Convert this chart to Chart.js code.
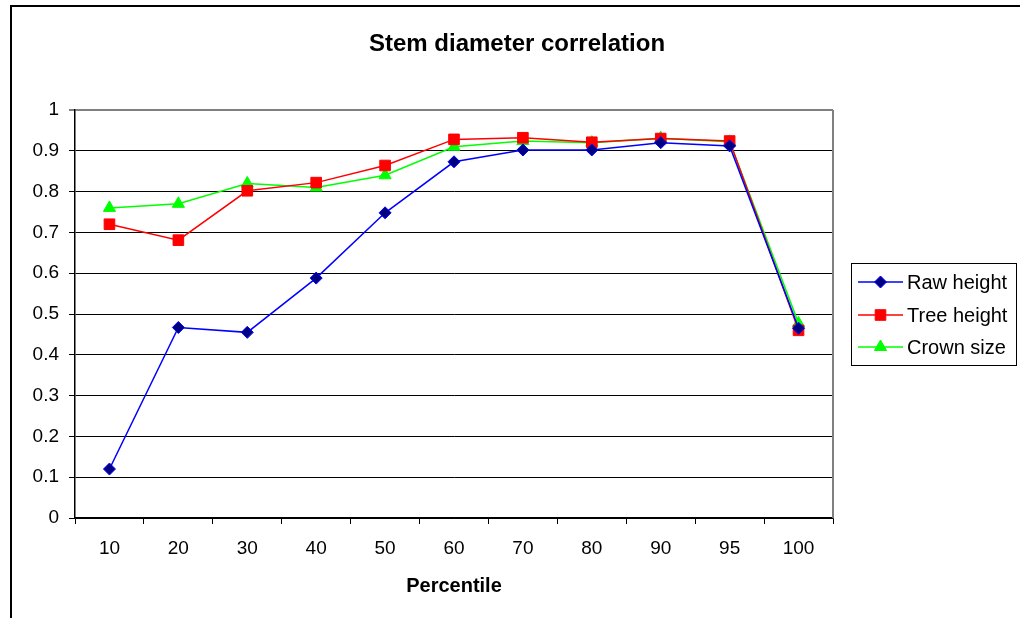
<!DOCTYPE html>
<html>
<head>
<meta charset="utf-8">
<script src="https://cdn.jsdelivr.net/npm/chart.js@4/dist/chart.umd.min.js"></script>
<style>
  html, body { margin: 0; padding: 0; background: #fff; }
  #wrap { width: 1020px; height: 618px; position: relative; }
</style>
</head>
<body>
<div id="wrap"><canvas id="c" width="1020" height="618"></canvas></div>
<script>
// Percentile classes on the x axis
const percentiles = ['10', '20', '30', '40', '50', '60', '70', '80', '90', '95', '100'];

// Correlation of stem diameter with each predictor
const rawHeight  = [0.120, 0.467, 0.455, 0.588, 0.748, 0.873, 0.902, 0.902, 0.920, 0.912, 0.465];
const treeHeight = [0.720, 0.681, 0.802, 0.822, 0.864, 0.928, 0.932, 0.921, 0.930, 0.924, 0.460];
const crownSize  = [0.760, 0.770, 0.820, 0.810, 0.840, 0.910, 0.924, 0.920, 0.931, 0.922, 0.477];

const seriesNames = ['Raw height', 'Tree height', 'Crown size'];
const yTicks = [0, 0.1, 0.2, 0.3, 0.4, 0.5, 0.6, 0.7, 0.8, 0.9, 1];
const chartTitle = 'Stem diameter correlation';

const FONT = '"Liberation Sans", Arial, sans-serif';

// Outer frame, chart title and the grey right border of the plot
const framePlugin = {
  id: 'frame',
  beforeDraw(chart) {
    const ctx = chart.ctx;
    ctx.save();
    ctx.fillStyle = '#fff';
    ctx.fillRect(0, 0, chart.width, chart.height);
    ctx.strokeStyle = '#000';
    ctx.lineWidth = 2;
    ctx.beginPath();
    ctx.moveTo(11, chart.height);
    ctx.lineTo(11, 6);
    ctx.lineTo(chart.width, 6);
    ctx.stroke();
    ctx.fillStyle = '#000';
    ctx.font = 'bold 24px ' + FONT;
    ctx.textAlign = 'center';
    ctx.textBaseline = 'middle';
    ctx.fillText(chartTitle, 517, 44);
    ctx.restore();
  },
  beforeDatasetsDraw(chart) {
    const a = chart.chartArea;
    const ctx = chart.ctx;
    ctx.save();
    ctx.strokeStyle = '#808080';
    ctx.lineWidth = 2;
    ctx.beginPath();
    ctx.moveTo(a.right, a.bottom);
    ctx.lineTo(a.right, a.top);
    ctx.stroke();
    ctx.restore();
  }
};

// Boxed legend with a line segment and marker per series
const boxLegend = {
  id: 'boxLegend',
  afterDraw(chart) {
    const ctx = chart.ctx;
    const x0 = 851, y0 = 263, w = 165, h = 102;
    ctx.save();
    ctx.strokeStyle = '#000';
    ctx.lineWidth = 1;
    ctx.strokeRect(x0 + 0.5, y0 + 0.5, w, h);
    const rows = [282, 315, 347];
    chart.data.datasets.forEach((ds, i) => {
      const y = rows[i];
      ctx.strokeStyle = ds.borderColor;
      ctx.lineWidth = 1.5;
      ctx.beginPath();
      ctx.moveTo(858, y);
      ctx.lineTo(903, y);
      ctx.stroke();
      ctx.fillStyle = ds.pointBackgroundColor;
      ctx.strokeStyle = ds.pointBorderColor;
      ctx.lineWidth = 1;
      Chart.helpers.drawPoint(ctx, {
        pointStyle: ds.pointStyle,
        radius: ds.pointRadius,
        rotation: 0,
        borderWidth: 1
      }, 880.5, y);
      ctx.fillStyle = '#000';
      ctx.font = '20px ' + FONT;
      ctx.textBaseline = 'middle';
      ctx.textAlign = 'left';
      ctx.fillText(ds.label, 907, y + 1);
    });
    ctx.restore();
  }
};

new Chart(document.getElementById('c'), {
  type: 'line',
  data: {
    labels: percentiles,
    datasets: [
      {
        label: seriesNames[0], data: rawHeight,
        borderColor: '#0000ff', backgroundColor: '#000080',
        pointBackgroundColor: '#000080', pointBorderColor: '#0000ff',
        pointStyle: 'rectRot', pointRadius: 6, pointBorderWidth: 1,
        borderWidth: 1.5, tension: 0
      },
      {
        label: seriesNames[1], data: treeHeight,
        borderColor: '#ff0000', backgroundColor: '#ff0000',
        pointBackgroundColor: '#ff0000', pointBorderColor: '#ff0000',
        pointStyle: 'rect', pointRadius: 7.5, pointBorderWidth: 1,
        borderWidth: 1.5, tension: 0
      },
      {
        label: seriesNames[2], data: crownSize,
        borderColor: '#00ff00', backgroundColor: '#00ff00',
        pointBackgroundColor: '#00ff00', pointBorderColor: '#00ff00',
        pointStyle: 'triangle', pointRadius: 7, pointBorderWidth: 1,
        borderWidth: 1.5, tension: 0
      }
    ]
  },
  options: {
    responsive: false,
    animation: false,
    layout: { padding: { left: 20, right: 187, top: 110, bottom: 0 } },
    plugins: {
      legend: { display: false },
      tooltip: { enabled: false },
      title: { display: false }
    },
    scales: {
      x: {
        type: 'category',
        offset: true,
        afterFit(scale) { scale.height = 100; },
        grid: {
          offset: true, drawOnChartArea: false, drawTicks: true,
          tickLength: 6, color: '#000', lineWidth: 1
        },
        border: { color: '#000', width: 1.5 },
        ticks: {
          color: '#000', font: { family: FONT, size: 19 }, padding: 13,
          maxRotation: 0, autoSkip: false
        },
        title: {
          display: true, text: 'Percentile', color: '#000',
          font: { family: FONT, size: 20, weight: 'bold' },
          padding: { top: 8, bottom: 20 }
        }
      },
      y: {
        min: 0, max: 1,
        afterBuildTicks(scale) { scale.ticks = yTicks.map(v => ({ value: v })); },
        afterFit(scale) { scale.width = 55; },
        grid: {
          color: ctx => (ctx.tick && ctx.tick.value === 1) ? '#808080' : '#000',
          lineWidth: ctx => (ctx.tick && ctx.tick.value === 1) ? 2 : 1,
          drawTicks: true, tickLength: 6
        },
        border: { color: '#000', width: 1.5 },
        ticks: {
          color: '#000', font: { family: FONT, size: 19 }, padding: 10,
          callback: v => String(v)
        }
      }
    }
  },
  plugins: [framePlugin, boxLegend]
});
</script>
</body>
</html>
